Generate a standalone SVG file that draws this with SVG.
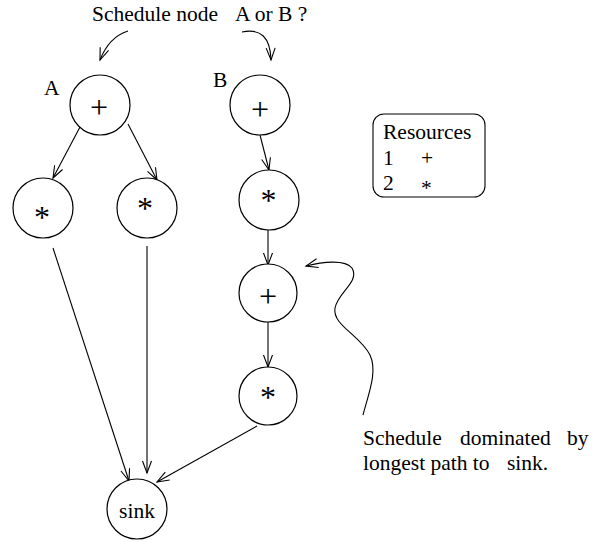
<svg xmlns="http://www.w3.org/2000/svg" width="596" height="542" viewBox="0 0 596 542">
  <style>
    text { font-family: "Liberation Serif", "Times New Roman", serif; fill: #000; }
    .lbl { font-size: 21.5px; }
    .sym { font-size: 32px; text-anchor: middle; }
    .node circle { fill: #fff; stroke: #000; stroke-width: 1.2; }
    .edge { fill: none; stroke: #000; stroke-width: 1.1; marker-end: url(#arr); }
  </style>
  <defs>
    <marker id="arr" markerUnits="userSpaceOnUse" markerWidth="14" markerHeight="10" refX="12" refY="4.5" orient="auto" overflow="visible">
      <path d="M0,0 L12,4.5 L0,9" fill="none" stroke="#000" stroke-width="1.1"/>
    </marker>
  </defs>

  <rect width="596" height="542" fill="#fff"/>

  <!-- question heading -->
  <g id="question">
    <text class="lbl" x="92" y="21">Schedule node</text>
    <text class="lbl" x="235" y="21">A or B ?</text>
  </g>

  <!-- connectors -->
  <g id="connectors">
    <path class="edge" d="M128,31 Q109,37 100,60"/>
    <path class="edge" d="M242,32 Q270,26 271,60"/>
    <path class="edge" d="M80,127 L53,178"/>
    <path class="edge" d="M128,124 L157,180"/>
    <path class="edge" d="M260,135 L269,170"/>
    <path class="edge" d="M268,230 L268,265"/>
    <path class="edge" d="M268,322 L268,367"/>
    <path class="edge" d="M53,248 L129,481"/>
    <path class="edge" d="M147,246 L147,473"/>
    <path class="edge" d="M257,426 L157,482"/>
    <path class="edge" d="M363,415 C368,395 378,372 370,355 C360,335 332,325 335,308 C338,292 360,282 352,268 C345,259 322,262 306,266"/>
  </g>

  <!-- chain A -->
  <g id="A_add" class="node">
    <circle cx="100" cy="105" r="30"/>
    <text class="sym" x="99" y="117.5">+</text>
  </g>
  <text class="lbl" id="label_A" x="44" y="95">A</text>
  <g id="A_mul1" class="node">
    <circle cx="43" cy="208" r="30"/>
    <text class="sym" x="42" y="228">*</text>
  </g>
  <g id="A_mul2" class="node">
    <circle cx="147" cy="208" r="30"/>
    <text class="sym" x="145" y="219">*</text>
  </g>

  <!-- chain B -->
  <text class="lbl" id="label_B" x="213" y="87">B</text>
  <g id="B_add1" class="node">
    <circle cx="260" cy="105" r="30"/>
    <text class="sym" x="260" y="120">+</text>
  </g>
  <g id="B_mul1" class="node">
    <circle cx="269" cy="200" r="30"/>
    <text class="sym" x="268.5" y="211">*</text>
  </g>
  <g id="B_add2" class="node">
    <circle cx="268" cy="293" r="29"/>
    <text class="sym" x="268" y="306.5">+</text>
  </g>
  <g id="B_mul2" class="node">
    <circle cx="268" cy="396" r="29"/>
    <text class="sym" x="268" y="408">*</text>
  </g>

  <!-- sink -->
  <g id="sink" class="node">
    <circle cx="137" cy="509" r="30"/>
    <text class="lbl" x="137" y="518" text-anchor="middle">sink</text>
  </g>

  <!-- resource table -->
  <g id="resources">
    <rect x="373" y="114" width="112" height="83" rx="11" ry="11" fill="#fff" stroke="#000" stroke-width="1.1"/>
    <text class="lbl" x="383" y="139">Resources</text>
    <text class="lbl" x="383" y="165">1</text>
    <text class="lbl" x="421" y="165">+</text>
    <text class="lbl" x="383" y="190">2</text>
    <text class="lbl" x="421" y="195">*</text>
  </g>

  <!-- note -->
  <g id="note">
    <text class="lbl" x="363" y="445">Schedule</text>
    <text class="lbl" x="460" y="445">dominated</text>
    <text class="lbl" x="567" y="445">by</text>
    <text class="lbl" x="363" y="470">longest path to</text>
    <text class="lbl" x="507" y="470">sink.</text>
  </g>
</svg>
